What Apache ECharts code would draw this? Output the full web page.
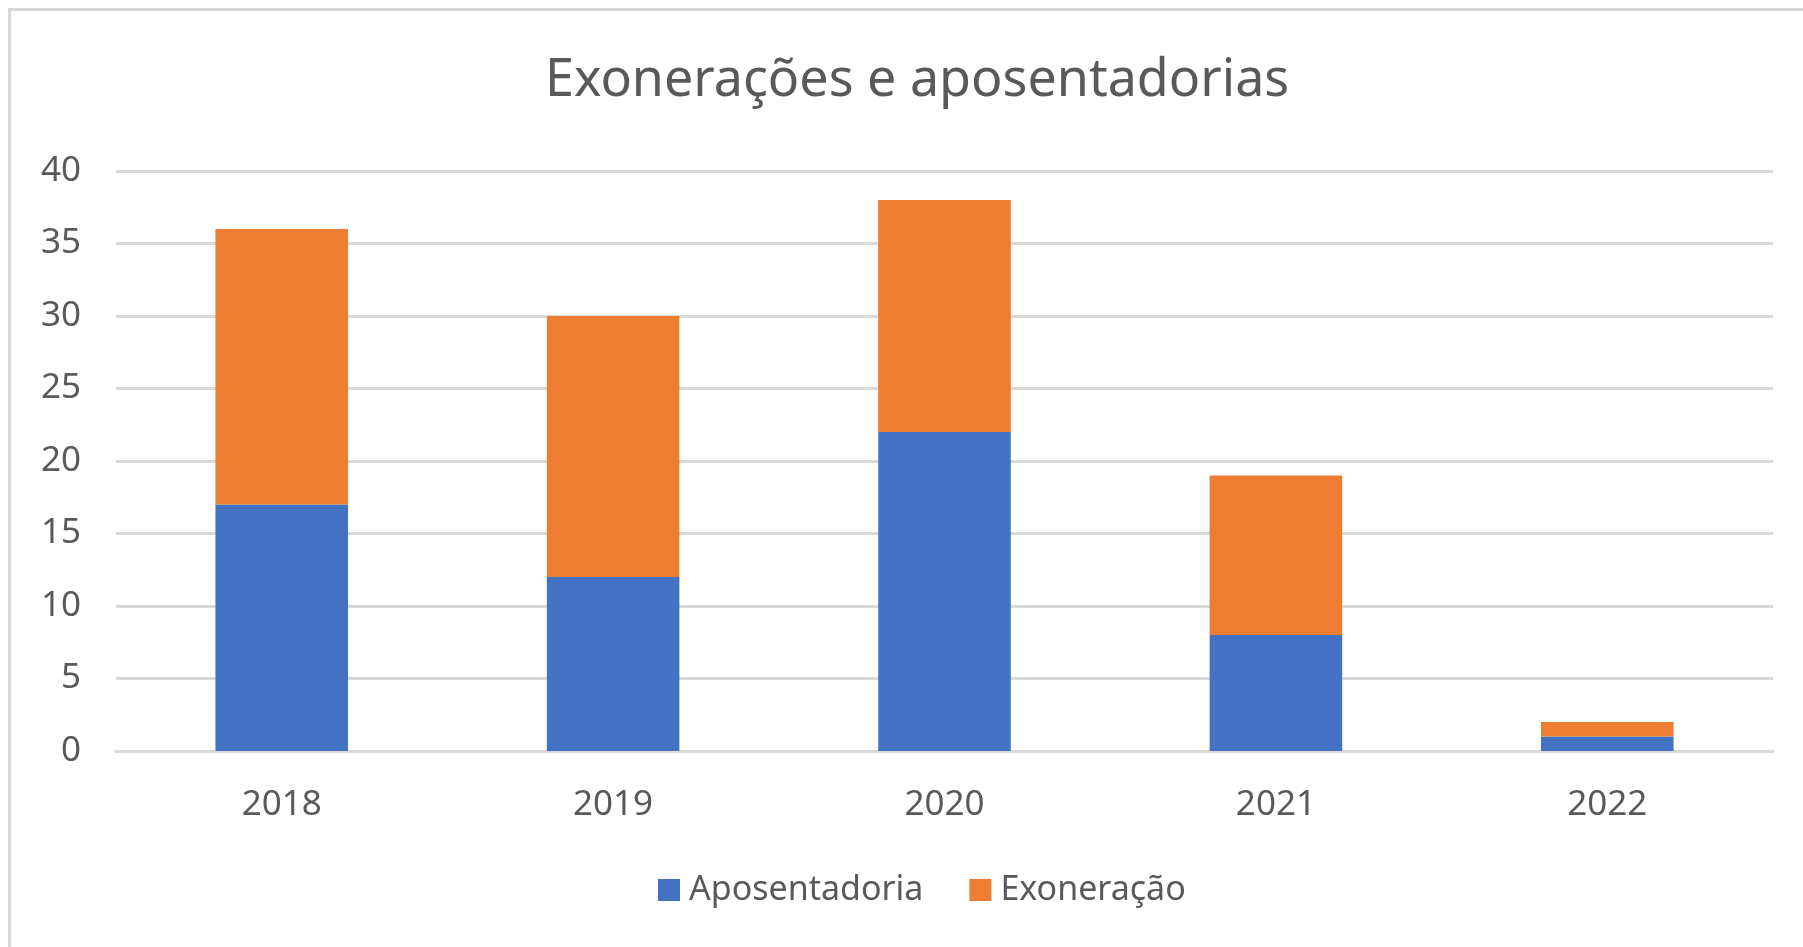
<!DOCTYPE html>
<html>
<head>
<meta charset="utf-8">
<title>Exonerações e aposentadorias</title>
<script src="https://cdn.jsdelivr.net/npm/echarts@6/dist/echarts.min.js"></script>
<style>
  html, body { margin: 0; padding: 0; background: #fff; overflow: hidden; }
  #chart { width: 1803px; height: 947px; }
  .frame {
    position: absolute; left: 8px; top: 8px;
    width: 2000px; height: 2000px;
    border: 3px solid #d9d9d9;
    pointer-events: none;
  }
</style>
</head>
<body>
<div id="chart"></div>
<div class="frame"></div>
<script>
const years = ['2018', '2019', '2020', '2021', '2022']
const aposentadoria = [17, 12, 22, 8, 1]
const exoneracao = [19, 18, 16, 11, 1]

const textColor = '#595959'
const fontFamily = '"Noto Sans", "Open Sans", sans-serif'

const chart = echarts.init(document.getElementById('chart'))

chart.setOption({
  backgroundColor: '#fff',
  animation: false,
  title: {
    text: 'Exonerações e aposentadorias',
    left: 540,
    top: 50,
    textStyle: { color: textColor, fontSize: 52, fontWeight: 'normal', fontFamily }
  },
  legend: {
    data: ['Aposentadoria', 'Exoneração'],
    left: 653,
    top: 868,
    icon: 'rect',
    itemWidth: 22,
    itemHeight: 22,
    itemGap: 46,
    textStyle: { color: textColor, fontSize: 34, fontFamily, padding: [0, 0, 0, 4] }
  },
  grid: {
    left: 116,
    right: 30,
    top: 171,
    bottom: 196,
    containLabel: false
  },
  xAxis: {
    type: 'category',
    data: years,
    axisLine: { show: true, lineStyle: { color: '#d9d9d9', width: 3 } },
    axisTick: { show: false },
    axisLabel: { color: textColor, fontSize: 35, fontFamily, margin: 37 }
  },
  yAxis: {
    type: 'value',
    min: 0,
    max: 40,
    interval: 5,
    axisLine: { show: false },
    axisTick: { show: false },
    axisLabel: { color: textColor, fontSize: 35, fontFamily, margin: 35 },
    splitLine: { lineStyle: { color: '#d9d9d9', width: 3 } }
  },
  series: [
    {
      name: 'Aposentadoria',
      type: 'bar',
      stack: 'total',
      barWidth: '40%',
      data: aposentadoria,
      itemStyle: { color: '#4472c4' }
    },
    {
      name: 'Exoneração',
      type: 'bar',
      stack: 'total',
      barWidth: '40%',
      data: exoneracao,
      itemStyle: { color: '#ed7d31' }
    }
  ]
})
</script>
</body>
</html>
